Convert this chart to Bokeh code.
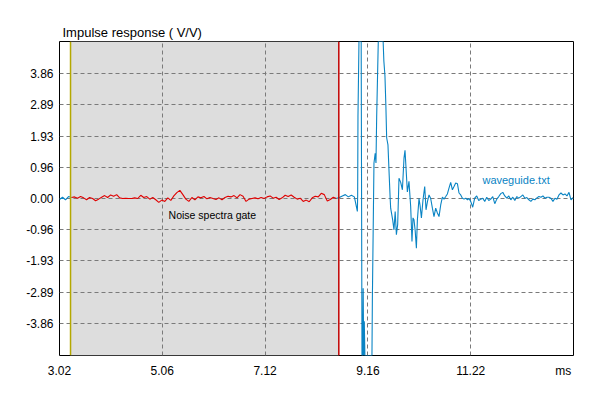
import numpy as np
from bokeh.plotting import figure
from bokeh.models import FixedTicker, Label, Range1d
from bokeh.embed import file_html
from bokeh.resources import INLINE

# ---------------- data ----------------
x_min, x_max = 3.02, 13.27
y_min, y_max = -4.86, 4.86

x_ticks = [3.02, 5.07, 7.12, 9.17, 11.22]
x_tick_labels = ["3.02", "5.06", "7.12", "9.16", "11.22"]
x_unit = "ms"
x_unit_pos = 13.066

y_ticks = [-3.86, -2.895, -1.93, -0.965, 0.0, 0.965, 1.93, 2.895, 3.86]
y_tick_labels = ["-3.86", "-2.89", "-1.93", "-0.96", "0.00", "0.96", "1.93", "2.89", "3.86"]

gate_start, gate_end = 3.24, 8.59

title_text = "Impulse response ( V/V)"
gate_text = "Noise spectra gate"
series_name = "waveguide.txt"

# noise before the arrival, sampled every 0.06 ms from 3.02 ms
pre_t0, pre_dt = 3.02, 0.06
pre_values = [
    -0.03, 0.04, -0.04, 0.06, 0.03, 0.05, 0.01, 0.06, 0.02, -0.04,
    0.03, 0.00, -0.07, -0.02, 0.04, 0.09, 0.03, 0.11, 0.07, 0.12,
    0.02, 0.00, 0.01, 0.00, 0.00, 0.02, 0.00, 0.10, 0.03, 0.06,
    -0.02, 0.03, -0.04, -0.12, -0.05, -0.09, 0.02, -0.06, 0.08, 0.18,
    0.25, 0.12, -0.02, -0.09, 0.03, -0.04, 0.05, 0.02, 0.06, -0.01,
    0.03, 0.00, -0.03, 0.02, -0.04, 0.03, 0.07, 0.05, 0.09, 0.02,
    0.12, 0.07, -0.09, -0.02, 0.00, 0.02, -0.01, 0.03, 0.00, 0.05,
    0.08, 0.01, 0.04, -0.03, 0.02, 0.10, 0.06, 0.11, 0.04, -0.02,
    0.01, -0.09, -0.05, -0.10, 0.02, 0.07, 0.05, 0.16, 0.12, -0.08,
    -0.03, 0.04, 0.00, 0.03, 0.08, 0.12, 0.05, 0.10, 0.05, -0.40,
]

# main pulse (time ms, value V/V)
pulse_samples = [
    (8.966, 0.10), (8.972, 2.53), (8.992, 6.50), (9.036, 6.50), (9.052, -6.50),
    (9.066, -6.50), (9.076, -2.78), (9.086, -6.50), (9.098, -3.80), (9.110, -6.50),
    (9.251, -6.50), (9.259, -3.14), (9.291, 1.10), (9.315, 1.40), (9.331, 1.10),
    (9.345, 2.53), (9.377, 6.50), (9.474, 6.50), (9.488, 4.26), (9.510, 3.80),
    (9.528, 2.90), (9.544, 1.88), (9.570, 1.66), (9.594, 0.74), (9.614, 0.00),
    (9.624, -0.30), (9.664, -0.66), (9.690, -0.97), (9.714, -0.40), (9.738, -1.12),
    (9.764, -0.80), (9.790, 0.63), (9.824, 0.50), (9.858, 0.27), (9.890, 1.25),
    (9.910, 1.49), (9.930, 0.95), (9.957, 0.20), (9.989, 0.53), (10.023, -0.25),
    (10.049, -1.33), (10.069, -0.60), (10.089, -0.66), (10.113, -1.00), (10.137, -1.54),
    (10.157, -0.66), (10.189, 0.00), (10.209, -0.20), (10.237, -0.60), (10.269, -0.04),
    (10.303, 0.37), (10.329, -0.35), (10.357, -0.10), (10.389, 0.11), (10.422, 0.00),
    (10.456, -0.30), (10.488, -0.56), (10.522, -0.30), (10.556, -0.45), (10.588, -0.56),
    (10.622, -0.20), (10.656, 0.04), (10.688, -0.02), (10.722, 0.06), (10.755, 0.14),
    (10.787, 0.32), (10.821, 0.50), (10.855, 0.27), (10.887, 0.37), (10.921, 0.48),
    (10.955, 0.46), (10.987, 0.17), (11.021, 0.11), (11.055, 0.01), (11.087, -0.02),
    (11.121, 0.01), (11.155, -0.04), (11.187, 0.00),
]

# tail noise (time ms, value V/V)
tail_samples = [
    (11.22, -0.09), (11.26, -0.27), (11.30, 0.01), (11.34, 0.08), (11.38, -0.06),
    (11.42, -0.02), (11.46, 0.01), (11.50, -0.09), (11.54, 0.04), (11.58, -0.06),
    (11.62, -0.02), (11.66, 0.06), (11.70, -0.16), (11.74, -0.02), (11.78, 0.06),
    (11.82, 0.15), (11.86, 0.19), (11.90, 0.08), (11.94, 0.01), (11.98, 0.08),
    (12.02, -0.04), (12.06, 0.04), (12.10, -0.06), (12.14, 0.06), (12.18, 0.01),
    (12.22, 0.06), (12.26, 0.11), (12.30, 0.01), (12.34, 0.03), (12.38, -0.04),
    (12.42, -0.09), (12.46, -0.02), (12.50, -0.04), (12.54, 0.02), (12.58, 0.06),
    (12.62, 0.04), (12.66, 0.08), (12.70, 0.01), (12.74, 0.04), (12.78, 0.04),
    (12.82, 0.01), (12.86, -0.09), (12.90, 0.01), (12.94, -0.02), (12.98, 0.11),
    (13.02, 0.17), (13.06, 0.11), (13.10, 0.14), (13.14, 0.08), (13.18, 0.19),
    (13.22, -0.04), (13.26, 0.03),
]

# ---------------- assemble ----------------
pre_times = [round(pre_t0 + pre_dt * i, 3) for i in range(len(pre_values))]
t_all = np.array(pre_times + [s[0] for s in pulse_samples] + [s[0] for s in tail_samples])
v_all = np.array(pre_values + [s[1] for s in pulse_samples] + [s[1] for s in tail_samples])
v_plot = np.clip(v_all, y_min, y_max)

idx_in = np.where((t_all >= gate_start) & (t_all <= gate_end))[0]
i0, i1 = idx_in[0], idx_in[-1]

FONT = "Liberation Sans"
BLUE = "#0A84C4"
RED = "#E00000"

p = figure(width=592, height=392,
           x_range=Range1d(x_min, x_max), y_range=Range1d(y_min, y_max),
           output_backend="svg", toolbar_location=None, title=title_text,
           min_border_left=59, min_border_right=19,
           min_border_top=41, min_border_bottom=37,
           background_fill_color="white", border_fill_color="white")

p.title.text_font = FONT
p.title.text_font_size = "13px"
p.title.text_font_style = "normal"
p.title.text_color = "#000000"
p.title.align = "left"
p.title.offset = 3
p.title.standoff = 3

p.outline_line_color = "black"
p.outline_line_width = 1
p.outline_line_alpha = 1.0

for ax in (p.xaxis[0], p.yaxis[0]):
    ax.axis_line_color = None
    ax.major_tick_line_color = None
    ax.minor_tick_line_color = None
    ax.major_tick_out = 0
    ax.major_tick_in = 0
    ax.major_label_text_font = FONT
    ax.major_label_text_font_size = "12px"
    ax.major_label_text_color = "#000000"

axis_ticks = x_ticks + [x_unit_pos]
p.xaxis.ticker = FixedTicker(ticks=axis_ticks)
p.xaxis.major_label_overrides = dict(zip(axis_ticks, x_tick_labels + [x_unit]))
p.xaxis.major_label_standoff = 8
p.yaxis.ticker = FixedTicker(ticks=y_ticks)
p.yaxis.major_label_overrides = dict(zip(y_ticks, y_tick_labels))
p.yaxis.major_label_standoff = 6

p.xgrid.ticker = FixedTicker(ticks=x_ticks)
p.ygrid.ticker = FixedTicker(ticks=y_ticks)
for g in (p.xgrid[0], p.ygrid[0]):
    g.grid_line_color = "#7A7A7A"
    g.grid_line_dash = "4 3"
    g.grid_line_width = 1

# noise gate shading
p.quad(left=[gate_start], right=[gate_end], bottom=[y_min], top=[y_max],
       fill_color="#DDDDDD", line_color=None, level="image")

# signal: blue outside the gate, red inside it
p.line(t_all[:i0 + 1], v_plot[:i0 + 1], line_color=BLUE, line_width=1.1)
p.line(t_all[i1:], v_plot[i1:], line_color=BLUE, line_width=1.1)
p.line(t_all[i0:i1 + 1], v_plot[i0:i1 + 1], line_color=RED, line_width=1.1)

# gate boundaries
p.segment(x0=[gate_start], x1=[gate_start], y0=[y_min], y1=[y_max],
          line_color="#B4A800", line_width=1.5)
p.segment(x0=[gate_end], x1=[gate_end], y0=[y_min], y1=[y_max],
          line_color="#C00000", line_width=1.5)

p.add_layout(Label(x=5.195, y=-0.50, text=gate_text, text_font=FONT,
                   text_font_size="10.5px", text_color="#000000",
                   text_align="left", text_baseline="middle"))
p.add_layout(Label(x=11.454, y=0.58, text=series_name, text_font=FONT,
                   text_font_size="11px", text_color=BLUE,
                   text_align="left", text_baseline="middle"))

open("out.html", "w").write(file_html(p, INLINE))
